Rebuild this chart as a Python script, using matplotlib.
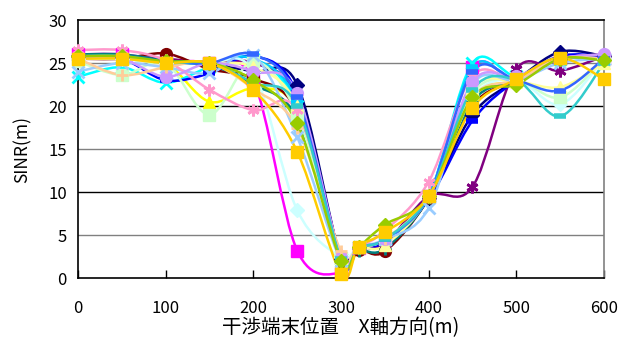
import numpy as np
import matplotlib
matplotlib.use("Agg")
import matplotlib.pyplot as plt
from matplotlib.path import Path
from matplotlib.patches import PathPatch

plt.rcParams['font.family'] = ['Noto Sans CJK JP', 'DejaVu Sans']

# --- data ---
x_pos = [0, 50, 100, 150, 200, 250, 300, 320, 350, 400, 450, 500, 550, 600]

s01 = [25.8, 25.6, 25.2, 24.8, 24.0, 22.5, 2.2, 3.5, 4.0, 9.3, 19.0, 23.0, 26.3, 25.8]
s02 = [26.0, 26.0, 25.3, 25.0, 23.0, 3.2, 0.6, 3.5, 4.5, 9.5, 24.5, 23.0, 25.5, 25.5]
s03 = [25.5, 25.5, 25.0, 20.5, 22.0, 19.5, 2.0, 3.6, 4.5, 9.5, 21.0, 23.0, 25.5, 25.5]
s04 = [23.4, 24.5, 22.7, 24.5, 25.5, 20.0, 2.2, 3.6, 4.5, 9.5, 25.0, 23.5, 25.5, 25.5]
s05 = [25.8, 25.8, 25.5, 25.0, 25.0, 21.0, 2.5, 3.5, 4.0, 9.5, 10.6, 24.3, 24.1, 25.8]
s06 = [25.5, 25.5, 26.1, 24.3, 23.2, 19.3, 2.0, 3.3, 3.1, 9.3, 20.0, 23.0, 25.5, 25.5]
s07 = [26.0, 26.0, 25.3, 24.8, 22.5, 18.5, 2.0, 3.2, 3.4, 9.3, 20.5, 23.0, 25.5, 25.5]
s08 = [25.5, 25.5, 23.0, 23.8, 25.8, 21.5, 2.3, 3.6, 4.2, 9.2, 18.3, 23.0, 25.8, 25.8]
s09 = [25.5, 25.5, 25.0, 25.0, 25.5, 20.5, 2.2, 3.6, 4.5, 9.5, 24.5, 23.0, 25.5, 25.5]
s10 = [25.5, 25.5, 25.0, 25.0, 24.0, 7.9, 2.5, 3.6, 4.5, 9.5, 21.0, 23.0, 20.2, 25.5]
s11 = [25.2, 23.6, 25.0, 19.0, 25.2, 19.0, 2.3, 3.6, 4.5, 9.5, 21.5, 23.0, 21.0, 25.5]
s12 = [25.5, 25.5, 25.0, 25.0, 24.5, 20.0, 2.3, 3.6, 3.8, 9.5, 22.0, 22.8, 22.2, 25.0]
s13 = [24.0, 25.0, 24.5, 23.8, 25.9, 16.4, 2.0, 3.6, 4.5, 8.1, 22.5, 23.0, 25.0, 25.5]
s14 = [26.5, 26.5, 25.3, 21.9, 19.5, 19.5, 2.7, 3.6, 5.5, 11.2, 23.5, 23.2, 25.5, 26.0]
s15 = [25.5, 25.5, 23.4, 25.0, 24.0, 21.5, 2.3, 3.6, 4.5, 9.5, 22.8, 23.5, 25.5, 26.0]
s16 = [25.5, 23.6, 24.5, 25.0, 22.0, 17.5, 3.1, 3.6, 4.5, 9.5, 21.0, 23.0, 25.5, 25.5]
s17 = [25.8, 25.8, 25.2, 25.0, 26.0, 21.0, 2.0, 3.6, 4.5, 9.5, 24.0, 23.0, 21.8, 25.5]
s18 = [25.8, 25.8, 25.0, 25.0, 22.7, 20.0, 2.2, 3.6, 4.5, 9.5, 21.9, 23.0, 18.8, 25.0]
s19 = [25.8, 25.8, 25.2, 25.0, 23.0, 18.0, 2.0, 3.6, 6.2, 9.5, 21.0, 22.5, 25.5, 25.3]
s20 = [25.5, 25.5, 25.0, 25.0, 21.9, 14.7, 0.5, 3.6, 5.3, 9.5, 19.8, 23.1, 25.6, 23.1]

series = [s01, s02, s03, s04, s05, s06, s07, s08, s09, s10,
          s11, s12, s13, s14, s15, s16, s17, s18, s19, s20]

colors = ['#000080', '#FF00FF', '#FFFF00', '#00FFFF', '#800080', '#800000',
          '#008080', '#0000FF', '#00CCFF', '#CCFFFF', '#CCFFCC', '#FFFF99',
          '#99CCFF', '#FF99CC', '#CC99FF', '#FFCC99', '#3366FF', '#33CCCC',
          '#99CC00', '#FFCC00']

asterisk = (6, 2, 0)
markers = ['D', 's', '^', 'x', asterisk, 'o', '+', '_', '_',
           'D', 's', '^', 'x', asterisk, 'o', '+', '_', '_',
           'D', 's']


def smooth_path(xs, ys):
    # Excel-like smoothed line: cubic bezier, catmull-rom control points
    pts = np.column_stack([xs, ys]).astype(float)
    n = len(pts)
    verts = [pts[0]]
    codes = [Path.MOVETO]
    for i in range(n - 1):
        p0 = pts[max(i - 1, 0)]
        p1 = pts[i]
        p2 = pts[i + 1]
        p3 = pts[min(i + 2, n - 1)]
        c1 = p1 + (p2 - p0) / 6.0
        c2 = p2 - (p3 - p1) / 6.0
        verts += [c1, c2, p2]
        codes += [Path.CURVE4] * 3
    return Path(verts, codes)


fig = plt.figure(figsize=(6.21, 3.42), dpi=100)
ax = fig.add_axes([0.1256, 0.187, 0.847, 0.7545])

for k, (ys, c, m) in enumerate(zip(series, colors, markers)):
    patch = PathPatch(smooth_path(x_pos, ys), facecolor='none', edgecolor=c,
                      lw=1.8, zorder=3 + k * 0.01)
    ax.add_patch(patch)
    mew = 2.0 if m in ('x', '+', asterisk) else 1.0
    if m == '_':
        mew = 4.0
    ms = 8.5
    if m == 'D':
        ms = 7.5
    if m == '_':
        ms = 9
    ax.plot(x_pos, ys, linestyle='none', marker=m, color=c, mfc=c, mec=c,
            ms=ms, mew=mew, zorder=4 + k * 0.01, clip_on=False)

ax.set_xlim(0, 600)
ax.set_ylim(0, 30)
ax.set_xticks(range(0, 601, 100))
ax.set_yticks(range(0, 31, 5))

for yv in [5, 10, 15, 20, 25]:
    gc = 'black' if yv in (10, 20) else '#808080'
    ax.axhline(yv, color=gc, lw=1.0, zorder=1)

ax.tick_params(axis='x', direction='in', length=6, width=1, labelsize=12, pad=16)
ax.tick_params(axis='y', length=0, labelsize=12, pad=8)

for side in ['left', 'bottom', 'top']:
    ax.spines[side].set_color('black')
    ax.spines[side].set_linewidth(1.2)
ax.spines['right'].set_color('#808080')
ax.spines['right'].set_linewidth(1.2)

ax.set_ylabel('SINR(m)', fontsize=12.5, labelpad=12)
ax.set_xlabel('干渉端末位置\u3000X軸方向(m)', fontsize=14, labelpad=0)

fig.savefig('out.png', dpi=100)
